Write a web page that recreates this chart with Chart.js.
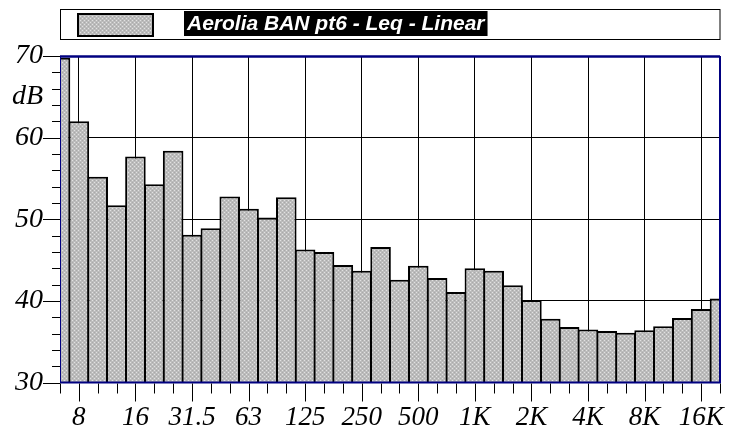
<!DOCTYPE html>
<html>
<head>
<meta charset="utf-8">
<script src="https://cdn.jsdelivr.net/npm/chart.js@4/dist/chart.umd.min.js"></script>
<style>
  html, body { margin: 0; padding: 0; background: #ffffff; }
  #wrap { width: 733px; height: 432px; }
</style>
</head>
<body>
<div id="wrap"><canvas id="spectrum" width="733" height="432"></canvas></div>
<script>
// One-third octave bands, 6.3 Hz to 20 kHz
const bands = ['6.3','8','10','12.5','16','20','25','31.5','40','50','63','80','100','125','160','200',
  '250','315','400','500','630','800','1K','1.25K','1.6K','2K','2.5K','3.15K','4K','5K','6.3K','8K',
  '10K','12.5K','16K','20K'];

// Leq per band, dB (linear weighting)
const levels = [69.8, 62.0, 55.2, 51.7, 57.7, 54.3, 58.4, 48.1, 48.9, 52.8, 51.3, 50.2, 52.7, 46.3,
  46.0, 44.4, 43.7, 46.6, 42.6, 44.3, 42.8, 41.1, 44.0, 43.7, 41.9, 40.1, 37.8, 36.8, 36.5, 36.3,
  36.1, 36.4, 36.9, 37.9, 39.0, 40.3];

// Octave bands that carry a label on the frequency axis
const tickLabels = ['8','16','31.5','63','125','250','500','1K','2K','4K','8K','16K'];

// Level axis labels
const levelTicks = [30, 40, 50, 60, 70];
const unitLabel = 'dB';
const unitAt = 65;
const seriesName = 'Aerolia BAN pt6 - Leq - Linear';

const SERIF = "'Liberation Serif', 'Times New Roman', serif";
const SANS = "'Liberation Sans', Arial, sans-serif";
const NAVY = '#000080';

// Halftone grey fill used for the bars and the legend swatch
function makeHalftone() {
  const c = document.createElement('canvas');
  c.width = 4; c.height = 4;
  const g = c.getContext('2d');
  g.fillStyle = '#bcbcbc';
  g.fillRect(0, 0, 4, 4);
  g.fillStyle = '#e2e2e2';
  g.fillRect(0, 0, 1, 1);
  g.fillRect(2, 2, 1, 1);
  g.fillStyle = '#a9a9a9';
  g.fillRect(2, 0, 1, 1);
  g.fillRect(0, 2, 1, 1);
  return g.createPattern(c, 'repeat');
}
const halftone = makeHalftone();

const isLabelled = (i) => tickLabels.includes(bands[i]);

// Legend strip across the top of the chart
const legendStrip = {
  id: 'legendStrip',
  afterDraw(chart) {
    const ctx = chart.ctx;
    const area = chart.chartArea;
    ctx.save();
    ctx.strokeStyle = '#000';
    ctx.lineWidth = 1;
    ctx.strokeRect(area.left + 0.5, 9.5, area.right - area.left - 0.5, 30);
    // swatch
    ctx.fillStyle = halftone;
    ctx.fillRect(77, 13, 77, 24);
    ctx.lineWidth = 2;
    ctx.strokeRect(78, 14, 75, 22);
    // series name, white on black
    ctx.font = 'italic bold 21px ' + SANS;
    const label = chart.data.datasets[0].label;
    const w = ctx.measureText(label).width;
    ctx.fillStyle = '#000';
    ctx.fillRect(184, 11, w + 6, 25);
    ctx.fillStyle = '#fff';
    ctx.textBaseline = 'middle';
    ctx.textAlign = 'left';
    ctx.fillText(label, 187, 24);
    ctx.restore();
  }
};

// Plot frame, tick marks and italic tick labels placed by the scales
const frameAndTicks = {
  id: 'frameAndTicks',
  afterDatasetsDraw(chart) {
    const ctx = chart.ctx;
    const a = chart.chartArea;
    ctx.save();
    ctx.strokeStyle = NAVY;
    ctx.lineWidth = 1;
    ctx.beginPath();
    ctx.moveTo(a.left + 0.5, a.top);
    ctx.lineTo(a.left + 0.5, a.bottom);
    ctx.stroke();
    ctx.lineWidth = 2.5;
    ctx.beginPath();
    ctx.moveTo(a.left, a.top + 0.5);
    ctx.lineTo(a.right, a.top + 0.5);
    ctx.stroke();
    ctx.lineWidth = 2;
    ctx.beginPath();
    ctx.moveTo(a.right, a.top);
    ctx.lineTo(a.right, a.bottom);
    ctx.moveTo(a.left, a.bottom);
    ctx.lineTo(a.right + 1, a.bottom);
    ctx.stroke();

    const ys = chart.scales.y;
    const xs = chart.scales.x;

    ctx.strokeStyle = '#000';
    ctx.lineWidth = 1;
    ctx.beginPath();
    ys.ticks.forEach(t => {
      if (t.value === unitAt) return;
      const py = Math.round(ys.getPixelForValue(t.value)) + 0.5;
      const len = levelTicks.includes(t.value) ? 17 : 8;
      ctx.moveTo(a.left - len, py);
      ctx.lineTo(a.left, py);
    });
    xs.ticks.forEach(t => {
      const px = Math.round(xs.getPixelForValue(t.value)) + 0.5;
      const len = isLabelled(t.value) ? 18 : 10;
      ctx.moveTo(px, a.bottom + 1);
      ctx.lineTo(px, a.bottom + 1 + len);
    });
    ctx.stroke();

    ctx.fillStyle = '#000';
    ctx.textBaseline = 'middle';
    ctx.font = 'italic 28px ' + SERIF;
    ctx.textAlign = 'right';
    ys.ticks.forEach(t => {
      const txt = levelTicks.includes(t.value) ? String(t.value) : (t.value === unitAt ? unitLabel : '');
      if (txt) ctx.fillText(txt, a.left - 17, ys.getPixelForValue(t.value));
    });
    ctx.font = 'italic 27px ' + SERIF;
    ctx.textAlign = 'center';
    xs.ticks.forEach(t => {
      if (isLabelled(t.value)) ctx.fillText(bands[t.value], xs.getPixelForValue(t.value), a.bottom + 35);
    });
    ctx.restore();
  }
};

new Chart(document.getElementById('spectrum'), {
  type: 'bar',
  data: {
    datasets: [{
      label: seriesName,
      data: levels.map((v, i) => ({ x: i, y: v })),
      backgroundColor: halftone,
      borderColor: '#000',
      borderWidth: 2,
      borderSkipped: 'start',
      barPercentage: 1.09,
      categoryPercentage: 1,
      clip: 0
    }]
  },
  options: {
    responsive: false,
    animation: false,
    events: [],
    layout: { padding: { top: 56, right: 13, left: 0, bottom: 0 } },
    plugins: { legend: { display: false }, tooltip: { enabled: false } },
    scales: {
      x: {
        type: 'linear',
        min: 0,
        max: bands.length - 1,
        offset: false,
        afterBuildTicks: (s) => { s.ticks = bands.map((_, i) => ({ value: i })); },
        afterFit: (s) => { s.height = 49.5; s.paddingLeft = 0; s.paddingRight = 0; },
        border: { display: false },
        grid: {
          offset: false,
          drawTicks: false,
          lineWidth: 1,
          color: (c) => (c.tick && isLabelled(c.tick.value)) ? '#000' : 'rgba(0,0,0,0)'
        },
        ticks: { display: false, autoSkip: false, maxRotation: 0 }
      },
      y: {
        type: 'linear',
        min: 30,
        max: 70,
        afterBuildTicks: (s) => {
          const t = [];
          for (let v = 30; v <= 70; v += 2) t.push({ value: v });
          t.push({ value: unitAt });
          s.ticks = t;
        },
        afterFit: (s) => { s.width = 60; s.paddingTop = 0; s.paddingBottom = 0; },
        border: { display: false },
        grid: {
          drawTicks: false,
          lineWidth: 1,
          color: (c) => (c.tick && [40, 50, 60].includes(c.tick.value)) ? '#000' : 'rgba(0,0,0,0)'
        },
        ticks: { display: false, autoSkip: false }
      }
    }
  },
  plugins: [legendStrip, frameAndTicks]
});
</script>
</body>
</html>
